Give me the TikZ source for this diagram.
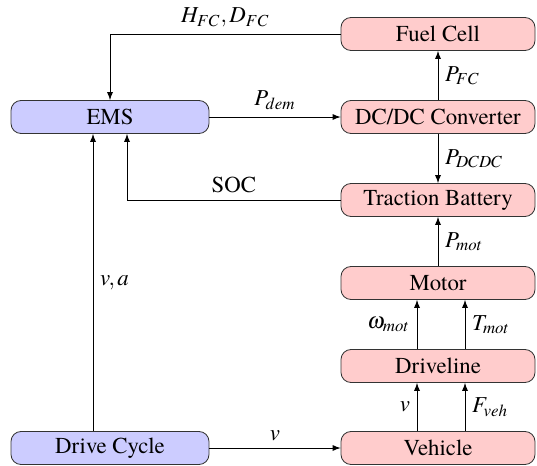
\documentclass[tikz,border=0pt]{standalone}
\usepackage{mathptmx}
\usepackage[no-math]{fontspec}
\setmainfont{texgyretermes}[Extension=.otf, UprightFont=*-regular, ItalicFont=*-italic, BoldFont=*-bold, BoldItalicFont=*-bolditalic]
\usetikzlibrary{arrows}

\begin{document}
\begin{tikzpicture}[x=0.5pt,y=-0.5pt,>=latex,
		blk/.style={draw=black!80, rounded corners=5pt, minimum height=16.5pt, inner sep=0pt, font=\fontsize{11.4}{13}\selectfont},
		plant/.style={blk, fill=red!20, minimum width=97pt},
		ctrl/.style={blk, fill=blue!20, minimum width=99pt},
		lbl/.style={font=\fontsize{11.4}{13}\selectfont}]
		\useasboundingbox (0,0) rectangle (537,466);
		\node[plant] (fc) at (438,34) {Fuel Cell};
		\node[plant] (dcdc) at (438,117) {DC/DC Converter};
		\node[plant] (bat) at (438,200) {Traction Battery};
		\node[plant] (mot) at (438,283) {Motor};
		\node[plant] (drv) at (438,366) {Driveline};
		\node[plant] (veh) at (438,448) {Vehicle};
		\node[ctrl] (ems) at (110,117) {EMS};
		\node[ctrl] (cyc) at (110,448) {Drive Cycle};
		\draw[->] (fc.west) -| (ems.north) node[lbl, above, pos=0.25] {$H_{FC}, D_{FC}$};
		\draw[->] (ems.east) -- (dcdc.west) node[lbl, above, midway] {$P_{dem}$};
		\draw[->] (dcdc.north) -- (fc.south) node[lbl, right, midway] {$P_{FC}$};
		\draw[->] (dcdc.south) -- (bat.north) node[lbl, right, midway] {$P_{DCDC}$};
		\draw[->] (bat.west) -| ([xshift=8.5pt]ems.south) node[lbl, above, pos=0.25] {SOC};
		\draw[->] (mot.north) -- (bat.south) node[lbl, right, midway] {$P_{mot}$};
		\draw[->] ([xshift=-10.5pt]drv.north) -- ([xshift=-10.5pt]mot.south) node[lbl, left, midway] {$\omega_{mot}$};
		\draw[->] ([xshift=13.5pt]drv.north) -- ([xshift=13.5pt]mot.south) node[lbl, right, midway] {$T_{mot}$};
		\draw[->] ([xshift=-10.5pt]veh.north) -- ([xshift=-10.5pt]drv.south) node[lbl, left, midway] {$v$};
		\draw[->] ([xshift=13.5pt]veh.north) -- ([xshift=13.5pt]drv.south) node[lbl, right, midway] {$F_{veh}$};
		\draw[->] ([xshift=-8.5pt]cyc.north) -- ([xshift=-8.5pt]ems.south) node[lbl, right, midway] {$v, a$};
		\draw[->] (cyc.east) -- (veh.west) node[lbl, above, midway] {$v$};
	\end{tikzpicture}
\end{document}
